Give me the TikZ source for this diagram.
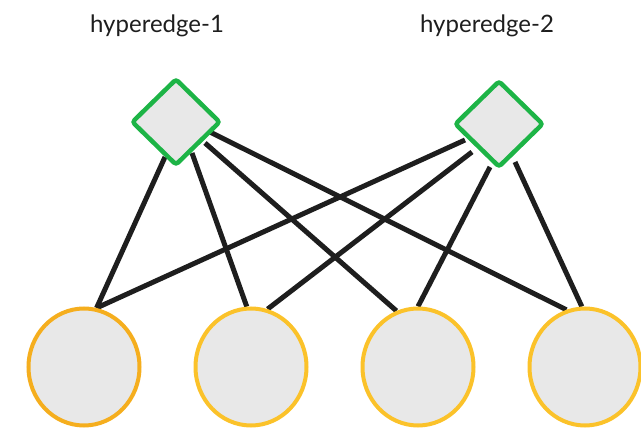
\documentclass[tikz,border=0pt]{standalone}
\usepackage{fontspec}
\setmainfont{Lato}
\usetikzlibrary{shapes.geometric,backgrounds}
\definecolor{edgegreen}{HTML}{1DB446}
\definecolor{vfill}{HTML}{E8E8E8}
\definecolor{vorange}{HTML}{F5AE1E}
\definecolor{vyellow}{HTML}{FBC22A}
\definecolor{linkc}{HTML}{1E1E1E}
\begin{document}
\begin{tikzpicture}[x=1pt,y=-1pt,
  hedge/.style={diamond,draw=edgegreen,fill=vfill,line width=4.5pt,minimum width=89pt,minimum height=87pt,inner sep=0pt,rounded corners=3pt},
  vert/.style={ellipse,fill=vfill,line width=4pt,minimum width=111pt,minimum height=117pt,inner sep=0pt},
  link/.style={draw=linkc,line width=5pt},
  lbl/.style={font=\fontsize{24}{28}\selectfont,text=linkc}]
\useasboundingbox (0,0) rectangle (641,430);
\node[lbl] (l1) at (157,26) {hyperedge-1};
\node[lbl] (l2) at (487,26) {hyperedge-2};
\node[hedge] (d1) at (176,122) {};
\node[hedge] (d2) at (499,124) {};
\node[vert,draw=vorange] (c1) at (84,367) {};
\node[vert,draw=vyellow] (c2) at (251,367) {};
\node[vert,draw=vyellow] (c3) at (418,367) {};
\node[vert,draw=vyellow] (c4) at (585,367) {};
\coordinate (a1) at (165,157);
\coordinate (a2) at (192,153);
\coordinate (a3) at (205,143);
\coordinate (a4) at (210,132);
\coordinate (b1) at (465,140);
\coordinate (b2) at (472,152);
\coordinate (b3) at (490,167);
\coordinate (b4) at (515,162);
\begin{pgfonlayer}{background}
\draw[link] (a1) -- (c1.78);
\draw[link] (a2) -- (c2.94);
\draw[link] (a3) -- (c3.111);
\draw[link] (a4) -- (c4.108);
\draw[link] (b1) -- (c1.78);
\draw[link] (b2) -- (c2.74);
\draw[link] (b3) -- (c3.90);
\draw[link] (b4) -- (c4.93);
\end{pgfonlayer}
\end{tikzpicture}
\end{document}
